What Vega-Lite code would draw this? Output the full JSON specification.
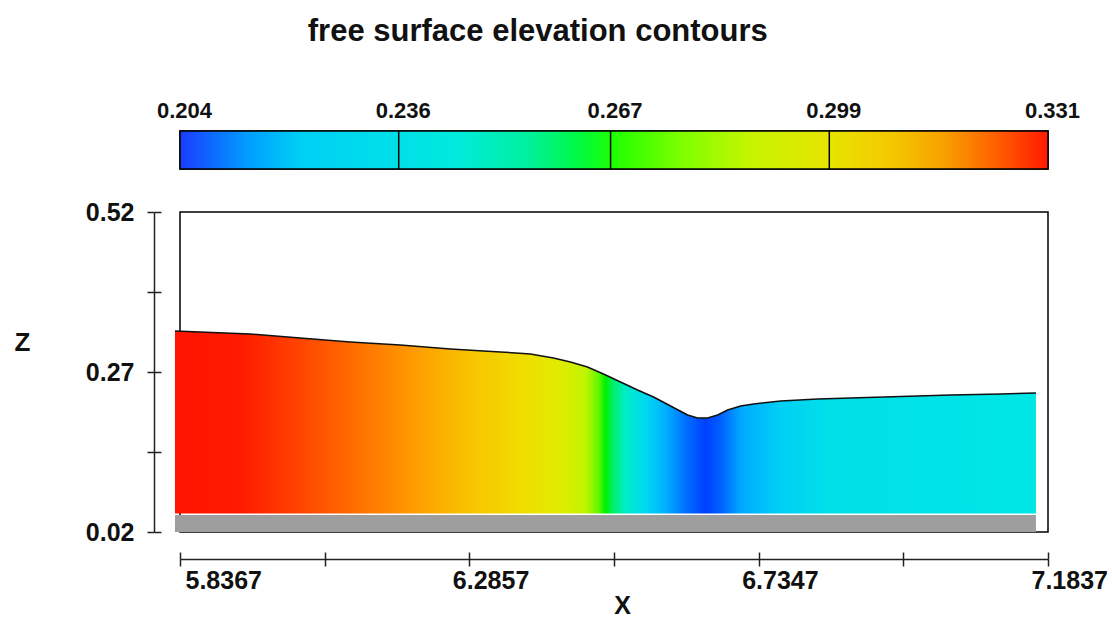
{
  "$schema": "https://vega.github.io/schema/vega-lite/v6.json",
  "padding": {"left": 13, "top": 16, "right": 5, "bottom": 0},
  "background": "white",
  "title": {"text": "free surface elevation contours", "font": "Liberation Sans", "fontSize": 31, "fontWeight": "bold", "color": "#111111", "anchor": "middle", "offset": 50, "dx": -23},
  "config": {
    "view": {"stroke": "black", "strokeWidth": 1.5},
    "axis": {"labelFont": "Liberation Sans", "labelFontWeight": "bold", "labelColor": "#111111", "titleFont": "Liberation Sans", "titleFontWeight": "bold", "titleColor": "#111111", "domainColor": "#222222", "tickColor": "#222222", "domainWidth": 1.5, "tickWidth": 1.5, "grid": false, "labelFlush": false}
  },
  "spacing": 28,
  "vconcat": [
    {
      "width": 868,
      "height": 38,
      "layer": [
        {
          "data": {"values": [{"lo": 0.204, "hi": 0.331}]},
          "mark": {"type": "rect", "stroke": "black", "strokeWidth": 1.5, "fill": {"gradient": "linear", "x1": 0, "y1": 0, "x2": 1, "y2": 0, "stops": [
            {"offset": 0, "color": "#1a3cff"},
            {"offset": 0.08, "color": "#00a0ff"},
            {"offset": 0.14, "color": "#00d0f4"},
            {"offset": 0.25, "color": "#00e0e8"},
            {"offset": 0.32, "color": "#00eadc"},
            {"offset": 0.40, "color": "#00f0a0"},
            {"offset": 0.46, "color": "#00fa40"},
            {"offset": 0.50, "color": "#20ff00"},
            {"offset": 0.58, "color": "#80ff00"},
            {"offset": 0.66, "color": "#c8f400"},
            {"offset": 0.75, "color": "#e8e400"},
            {"offset": 0.82, "color": "#f4c800"},
            {"offset": 0.88, "color": "#f8a000"},
            {"offset": 0.94, "color": "#ff6000"},
            {"offset": 1, "color": "#ff1a00"}
          ]}},
          "encoding": {
            "x": {"field": "lo", "type": "quantitative", "scale": {"domain": [0.204, 0.331], "nice": false, "zero": false},
              "axis": {"orient": "top", "values": [0.204, 0.236, 0.267, 0.299, 0.331], "format": ".3f", "ticks": false, "domain": false, "labelPadding": 9, "labelFontSize": 22, "labelOffset": 4, "labelFlush": false, "title": null}},
            "x2": {"field": "hi"}
          }
        },
        {
          "data": {"values": [{"v": 0.236}, {"v": 0.267}, {"v": 0.299}]},
          "mark": {"type": "rule", "color": "black", "strokeWidth": 1.5},
          "encoding": {"x": {"field": "v", "type": "quantitative", "scale": {"domain": [0.204, 0.331], "nice": false, "zero": false}}}
        }
      ]
    },
    {
      "width": 868,
      "height": 320,
      "resolve": {"axis": {"x": "independent", "y": "independent"}},
      "layer": [
        {
          "data": {"values": [{"x0": 5.8289, "x1": 7.165, "b0": 0.02, "b1": 0.0465}]},
          "mark": {"type": "rect", "color": "#9e9e9e"},
          "encoding": {
            "x": {"field": "x0", "type": "quantitative", "scale": {"domain": [5.8367, 7.1837], "nice": false, "zero": false}, "axis": null},
            "x2": {"field": "x1"},
            "y": {"field": "b0", "type": "quantitative", "scale": {"domain": [0.02, 0.52], "nice": false, "zero": false}, "axis": null},
            "y2": {"field": "b1"}
          }
        },
        {
          "data": {"name": "surface"},
          "mark": {"type": "area", "fill": {"gradient": "linear", "x1": 0, "y1": 0, "x2": 1, "y2": 0, "stops": [
            {"offset": 0, "color": "#ff1400"},
            {"offset": 0.076, "color": "#ff1a00"},
            {"offset": 0.145, "color": "#ff4400"},
            {"offset": 0.227, "color": "#ff7a00"},
            {"offset": 0.285, "color": "#ffa000"},
            {"offset": 0.343, "color": "#f8c400"},
            {"offset": 0.401, "color": "#f0dc00"},
            {"offset": 0.448, "color": "#e0ec00"},
            {"offset": 0.477, "color": "#c0f400"},
            {"offset": 0.492, "color": "#60f800"},
            {"offset": 0.5, "color": "#00f000"},
            {"offset": 0.508, "color": "#00f060"},
            {"offset": 0.523, "color": "#00ecc8"},
            {"offset": 0.547, "color": "#00d8f0"},
            {"offset": 0.57, "color": "#00b0ff"},
            {"offset": 0.593, "color": "#0070ff"},
            {"offset": 0.616, "color": "#0040ff"},
            {"offset": 0.634, "color": "#0060ff"},
            {"offset": 0.657, "color": "#00a8ff"},
            {"offset": 0.703, "color": "#00d0f4"},
            {"offset": 0.762, "color": "#00e0e8"},
            {"offset": 1, "color": "#00e6e6"}
          ]}},
          "encoding": {
            "x": {"field": "x", "type": "quantitative", "scale": {"domain": [5.8367, 7.1837], "nice": false, "zero": false},
              "axis": {"orient": "bottom", "offset": 27, "values": [5.8367, 6.0612, 6.2857, 6.5102, 6.7347, 6.9592, 7.1837],
                "labelExpr": "abs(datum.value-6.0612)<0.001 || abs(datum.value-6.5102)<0.001 || abs(datum.value-6.9592)<0.001 ? '' : format(datum.value, '.4f')",
                "tickSize": 7, "labelPadding": 2, "labelFontSize": 25, "labelAlign": "left", "labelFlush": false, "labelOffset": {"condition": {"test": "datum.value < 5.9", "value": 5}, "value": -17},
                "title": "X", "titleFontSize": 25, "titleX": 442, "titleY": 46, "titleBaseline": "middle", "titleAlign": "center"}},
            "y": {"field": "z", "type": "quantitative", "scale": {"domain": [0.02, 0.52], "nice": false, "zero": false},
              "axis": {"orient": "left", "offset": 26, "values": [0.02, 0.145, 0.27, 0.395, 0.52],
                "labelExpr": "abs(datum.value-0.145)<0.001 || abs(datum.value-0.395)<0.001 ? '' : format(datum.value, '.2f')",
                "tickSize": 7, "labelPadding": 13, "labelFontSize": 25, "labelFlush": false,
                "title": "Z", "titleFontSize": 26, "titleAngle": 0, "titleX": -132, "titleY": 130, "titleBaseline": "middle", "titleAlign": "center"}},
            "y2": {"datum": 0.049}
          }
        },
        {
          "data": {"name": "surface"},
          "mark": {"type": "line", "color": "#111111", "strokeWidth": 1.5},
          "encoding": {
            "x": {"field": "x", "type": "quantitative", "scale": {"domain": [5.8367, 7.1837], "nice": false, "zero": false},
              "axis": {"orient": "bottom", "offset": 27, "values": [5.8367, 6.0612, 6.2857, 6.5102, 6.7347, 6.9592, 7.1837], "tickSize": -7, "labels": false, "domain": false, "title": null}},
            "y": {"field": "z", "type": "quantitative", "scale": {"domain": [0.02, 0.52], "nice": false, "zero": false},
              "axis": {"orient": "left", "offset": 26, "values": [0.02, 0.145, 0.27, 0.395, 0.52], "tickSize": -7, "labels": false, "domain": false, "title": null}}
          }
        }
      ]
    }
  ],
  "datasets": {
    "surface": [
      {"x": 5.8289, "z": 0.3341},
      {"x": 5.8678, "z": 0.3325},
      {"x": 5.9455, "z": 0.3294},
      {"x": 6.0231, "z": 0.3231},
      {"x": 6.1008, "z": 0.3169},
      {"x": 6.1785, "z": 0.3122},
      {"x": 6.2562, "z": 0.3059},
      {"x": 6.3339, "z": 0.3013},
      {"x": 6.3805, "z": 0.2981},
      {"x": 6.4162, "z": 0.2919},
      {"x": 6.4426, "z": 0.2856},
      {"x": 6.4690, "z": 0.2778},
      {"x": 6.4939, "z": 0.2669},
      {"x": 6.5203, "z": 0.2544},
      {"x": 6.5467, "z": 0.2419},
      {"x": 6.5716, "z": 0.2309},
      {"x": 6.5980, "z": 0.2169},
      {"x": 6.6244, "z": 0.2028},
      {"x": 6.6399, "z": 0.1981},
      {"x": 6.6555, "z": 0.1981},
      {"x": 6.6710, "z": 0.2028},
      {"x": 6.6865, "z": 0.2106},
      {"x": 6.7067, "z": 0.2169},
      {"x": 6.7269, "z": 0.2200},
      {"x": 6.7689, "z": 0.2247},
      {"x": 6.8263, "z": 0.2278},
      {"x": 6.8776, "z": 0.2294},
      {"x": 6.9289, "z": 0.2309},
      {"x": 7.0330, "z": 0.2341},
      {"x": 7.1106, "z": 0.2356},
      {"x": 7.1650, "z": 0.2372}
    ]
  }
}
